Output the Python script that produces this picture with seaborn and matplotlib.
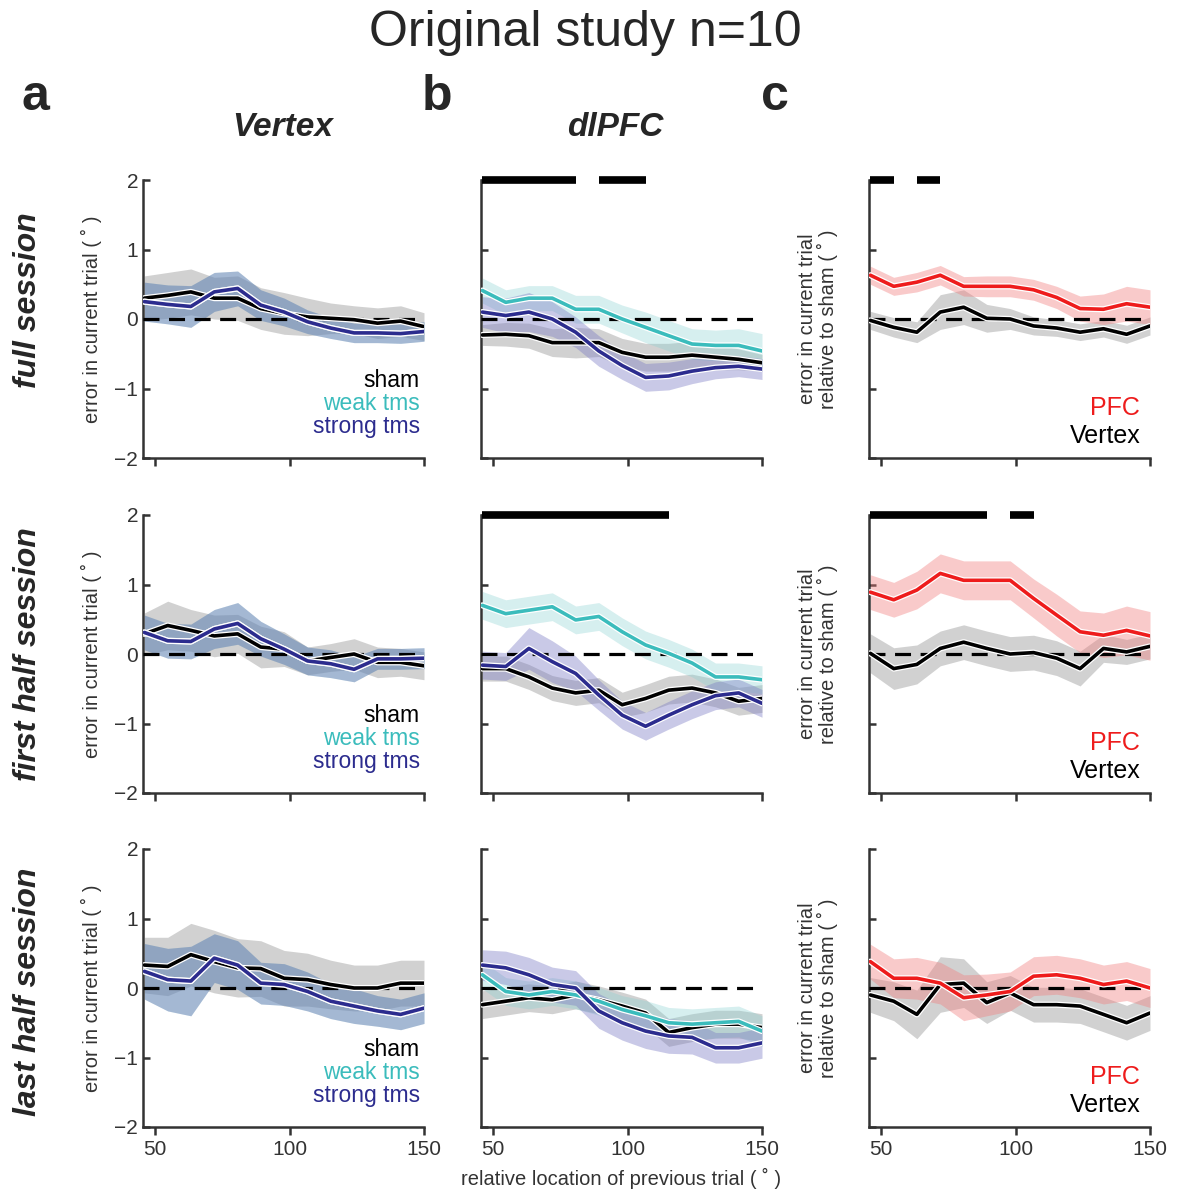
import numpy as np
import matplotlib
matplotlib.use('Agg')
import matplotlib.pyplot as plt
import matplotlib.patheffects as pe
import seaborn as sns

# relative location of previous trial (deg), shared by all panels
xs = [46, 54.7, 63.3, 72, 80.7, 89.3, 98, 106.7, 115.3, 124, 132.7, 141.3, 150]

# ---- full session ----
full_vertex_sham = [0.30, 0.34, 0.39, 0.30, 0.30, 0.15, 0.08, 0.03, 0.01, -0.01, -0.06, -0.03, -0.11]
full_vertex_sham_err = [0.32, 0.33, 0.33, 0.30, 0.32, 0.30, 0.30, 0.27, 0.22, 0.20, 0.22, 0.22, 0.20]
full_vertex_strong = [0.25, 0.21, 0.18, 0.39, 0.44, 0.20, 0.10, -0.04, -0.13, -0.20, -0.20, -0.21, -0.18]
full_vertex_strong_err = [0.28, 0.28, 0.30, 0.28, 0.25, 0.22, 0.20, 0.17, 0.15, 0.14, 0.14, 0.14, 0.14]

full_dlpfc_sham = [-0.23, -0.22, -0.24, -0.34, -0.34, -0.34, -0.48, -0.55, -0.55, -0.52, -0.55, -0.58, -0.63]
full_dlpfc_sham_err = [0.15, 0.17, 0.18, 0.20, 0.22, 0.20, 0.20, 0.20, 0.20, 0.20, 0.18, 0.15, 0.12]
full_dlpfc_weak = [0.41, 0.24, 0.30, 0.30, 0.14, 0.14, 0.00, -0.12, -0.24, -0.36, -0.38, -0.38, -0.46]
full_dlpfc_weak_err = [0.18, 0.18, 0.18, 0.18, 0.20, 0.20, 0.20, 0.22, 0.22, 0.22, 0.22, 0.24, 0.25]
full_dlpfc_strong = [0.10, 0.05, 0.10, 0.00, -0.19, -0.46, -0.67, -0.84, -0.82, -0.75, -0.70, -0.68, -0.72]
full_dlpfc_strong_err = [0.22, 0.25, 0.28, 0.25, 0.22, 0.22, 0.20, 0.20, 0.20, 0.18, 0.16, 0.15, 0.15]
full_dlpfc_sig = [(46, 80.7), (89.3, 106.7)]

full_diff_pfc = [0.63, 0.47, 0.53, 0.63, 0.47, 0.47, 0.47, 0.42, 0.31, 0.15, 0.14, 0.22, 0.17]
full_diff_pfc_err = [0.13, 0.13, 0.14, 0.14, 0.14, 0.15, 0.15, 0.15, 0.16, 0.18, 0.22, 0.25, 0.25]
full_diff_vertex = [-0.02, -0.12, -0.19, 0.10, 0.17, 0.01, 0.00, -0.10, -0.13, -0.19, -0.14, -0.22, -0.10]
full_diff_vertex_err = [0.13, 0.14, 0.15, 0.25, 0.25, 0.20, 0.15, 0.13, 0.12, 0.12, 0.12, 0.13, 0.13]
full_diff_sig = [(46, 54.7), (63.3, 72)]

# ---- first half session ----
first_vertex_sham = [0.29, 0.41, 0.34, 0.26, 0.29, 0.10, 0.07, -0.10, -0.05, 0.00, -0.12, -0.12, -0.17]
first_vertex_sham_err = [0.30, 0.35, 0.30, 0.30, 0.28, 0.30, 0.25, 0.20, 0.20, 0.22, 0.22, 0.20, 0.20]
first_vertex_strong = [0.31, 0.19, 0.18, 0.36, 0.44, 0.22, 0.07, -0.10, -0.14, -0.22, -0.07, -0.07, -0.06]
first_vertex_strong_err = [0.25, 0.25, 0.25, 0.28, 0.30, 0.25, 0.22, 0.20, 0.20, 0.18, 0.15, 0.15, 0.15]

first_dlpfc_sham = [-0.21, -0.21, -0.33, -0.49, -0.56, -0.52, -0.73, -0.64, -0.52, -0.49, -0.56, -0.68, -0.64]
first_dlpfc_sham_err = [0.18, 0.18, 0.18, 0.18, 0.18, 0.18, 0.18, 0.20, 0.20, 0.20, 0.20, 0.20, 0.20]
first_dlpfc_weak = [0.70, 0.58, 0.63, 0.68, 0.49, 0.54, 0.32, 0.13, 0.01, -0.13, -0.33, -0.33, -0.37]
first_dlpfc_weak_err = [0.20, 0.20, 0.20, 0.20, 0.20, 0.20, 0.20, 0.20, 0.20, 0.20, 0.20, 0.20, 0.20]
first_dlpfc_strong = [-0.16, -0.18, 0.08, -0.11, -0.28, -0.59, -0.88, -1.04, -0.88, -0.73, -0.60, -0.56, -0.71]
first_dlpfc_strong_err = [0.20, 0.20, 0.30, 0.30, 0.25, 0.22, 0.20, 0.20, 0.20, 0.20, 0.20, 0.20, 0.20]
first_dlpfc_sig = [(46, 115.3)]

first_diff_pfc = [0.89, 0.78, 0.92, 1.16, 1.06, 1.06, 1.06, 0.80, 0.56, 0.32, 0.27, 0.34, 0.26]
first_diff_pfc_err = [0.25, 0.25, 0.27, 0.28, 0.28, 0.28, 0.28, 0.28, 0.30, 0.30, 0.32, 0.35, 0.35]
first_diff_vertex = [0.01, -0.21, -0.15, 0.08, 0.17, 0.08, 0.00, 0.02, -0.06, -0.21, 0.08, 0.03, 0.11]
first_diff_vertex_err = [0.28, 0.30, 0.28, 0.25, 0.25, 0.25, 0.25, 0.25, 0.25, 0.25, 0.20, 0.18, 0.18]
first_diff_sig = [(46, 89.3), (98, 106.7)]

# ---- last half session ----
last_vertex_sham = [0.33, 0.31, 0.48, 0.38, 0.29, 0.28, 0.14, 0.12, 0.05, 0.00, 0.00, 0.07, 0.07]
last_vertex_sham_err = [0.40, 0.42, 0.45, 0.45, 0.42, 0.40, 0.40, 0.38, 0.35, 0.33, 0.33, 0.33, 0.33]
last_vertex_strong = [0.24, 0.12, 0.10, 0.43, 0.33, 0.07, 0.05, -0.05, -0.19, -0.26, -0.33, -0.38, -0.29]
last_vertex_strong_err = [0.40, 0.45, 0.50, 0.35, 0.35, 0.30, 0.30, 0.28, 0.25, 0.25, 0.22, 0.22, 0.22]

last_dlpfc_sham = [-0.24, -0.19, -0.14, -0.17, -0.10, -0.17, -0.26, -0.36, -0.64, -0.57, -0.52, -0.52, -0.57]
last_dlpfc_sham_err = [0.20, 0.20, 0.20, 0.20, 0.20, 0.20, 0.20, 0.20, 0.20, 0.20, 0.20, 0.20, 0.20]
last_dlpfc_weak = [0.19, -0.05, -0.10, -0.05, -0.10, -0.19, -0.31, -0.40, -0.50, -0.52, -0.50, -0.48, -0.62]
last_dlpfc_weak_err = [0.20, 0.20, 0.20, 0.20, 0.20, 0.20, 0.20, 0.22, 0.22, 0.22, 0.22, 0.22, 0.22]
last_dlpfc_strong = [0.33, 0.29, 0.19, 0.05, 0.00, -0.33, -0.50, -0.62, -0.69, -0.71, -0.86, -0.86, -0.79]
last_dlpfc_strong_err = [0.22, 0.24, 0.25, 0.25, 0.25, 0.25, 0.25, 0.25, 0.25, 0.24, 0.22, 0.22, 0.22]

last_diff_pfc = [0.38, 0.14, 0.14, 0.07, -0.14, -0.10, -0.05, 0.17, 0.19, 0.14, 0.05, 0.10, 0.00]
last_diff_pfc_err = [0.25, 0.28, 0.30, 0.30, 0.33, 0.30, 0.28, 0.28, 0.28, 0.28, 0.28, 0.28, 0.28]
last_diff_vertex = [-0.10, -0.19, -0.38, 0.05, 0.07, -0.21, -0.07, -0.24, -0.24, -0.26, -0.38, -0.50, -0.36]
last_diff_vertex_err = [0.25, 0.28, 0.35, 0.40, 0.35, 0.30, 0.25, 0.25, 0.25, 0.25, 0.25, 0.25, 0.25]

row_labels = ['full session', 'first half session', 'last half session']
col_titles = ['Vertex', 'dlPFC']
panel_letters = ['a', 'b', 'c']
tms_labels = ['sham', 'weak tms', 'strong tms']
diff_labels = ['PFC', 'Vertex']

SHAM = '#000000'
WEAK = '#3bbcbc'
STRONG = '#2c2c8e'
PFC = '#ee1c1c'
TXT = '#333333'

sns.set_style('ticks')
plt.rcParams['font.family'] = ['Liberation Sans', 'DejaVu Sans']

fig = plt.figure(figsize=(11.77, 12.03), dpi=100)
W, H = 1177, 1203
col_left = [143, 481, 869]
row_top = [180, 515, 849]
ax_w, ax_h = 281, 278

halo = [pe.Stroke(linewidth=4.4, foreground='white'), pe.Normal()]


def draw_series(ax, mean, err, color, band_color, band_alpha):
    m = np.array(mean)
    e = np.array(err)
    ax.fill_between(xs, m - e, m + e, color=band_color, alpha=band_alpha, lw=0, zorder=1)
    sns.lineplot(x=xs, y=mean, ax=ax, color=color, lw=2.6, zorder=4,
                 path_effects=halo, estimator=None)


def draw_sig(ax, spans):
    for a, b in spans:
        ax.plot([a, b], [2, 2], color='black', lw=5.5, solid_capstyle='butt',
                clip_on=False, zorder=6)


def make_ax(r, c):
    left = col_left[c] / W
    bottom = 1 - (row_top[r] + ax_h) / H
    ax = fig.add_axes([left, bottom, ax_w / W, ax_h / H])
    ax.set_xlim(45.5, 150)
    ax.set_ylim(-2, 2)
    sns.despine(ax=ax)
    for s in ['left', 'bottom']:
        ax.spines[s].set_linewidth(1.8)
        ax.spines[s].set_color(TXT)
    ax.set_xticks([50, 100, 150])
    ax.set_yticks([-2, -1, 0, 1, 2])
    ax.tick_params(axis='x', direction='out', length=6, width=1.8, color=TXT,
                   labelsize=15, labelcolor=TXT, labelbottom=(r == 2))
    ax.tick_params(axis='y', direction='in', length=5, width=1.8, color=TXT,
                   labelsize=15, labelcolor=TXT, labelleft=(c == 0))
    if c == 0:
        ax.set_yticklabels(['\u22122', '\u22121', '0', '1', '2'])
    ax.axhline(0, color='black', lw=2.3, ls=(0, (5, 3)), zorder=3)
    ax.set_xlabel('')
    ax.set_ylabel('')
    return ax


vertex_rows = [
    (full_vertex_sham, full_vertex_sham_err, full_vertex_strong, full_vertex_strong_err),
    (first_vertex_sham, first_vertex_sham_err, first_vertex_strong, first_vertex_strong_err),
    (last_vertex_sham, last_vertex_sham_err, last_vertex_strong, last_vertex_strong_err),
]
dlpfc_rows = [
    (full_dlpfc_sham, full_dlpfc_sham_err, full_dlpfc_weak, full_dlpfc_weak_err,
     full_dlpfc_strong, full_dlpfc_strong_err, full_dlpfc_sig),
    (first_dlpfc_sham, first_dlpfc_sham_err, first_dlpfc_weak, first_dlpfc_weak_err,
     first_dlpfc_strong, first_dlpfc_strong_err, first_dlpfc_sig),
    (last_dlpfc_sham, last_dlpfc_sham_err, last_dlpfc_weak, last_dlpfc_weak_err,
     last_dlpfc_strong, last_dlpfc_strong_err, []),
]
diff_rows = [
    (full_diff_pfc, full_diff_pfc_err, full_diff_vertex, full_diff_vertex_err, full_diff_sig),
    (first_diff_pfc, first_diff_pfc_err, first_diff_vertex, first_diff_vertex_err, first_diff_sig),
    (last_diff_pfc, last_diff_pfc_err, last_diff_vertex, last_diff_vertex_err, []),
]

for r in range(3):
    # column a: Vertex (weak and strong coincide, strong drawn on top)
    ax = make_ax(r, 0)
    sham, sham_e, strong, strong_e = vertex_rows[r]
    draw_series(ax, sham, sham_e, SHAM, '#9a9a9a', 0.45)
    draw_series(ax, strong, strong_e, WEAK, '#6fc7c7', 0.35)
    draw_series(ax, strong, strong_e, STRONG, '#5a5aa8', 0.35)
    ax.set_ylabel('error in current trial ( \u02da )', fontsize=14.5, color=TXT, labelpad=9)
    for lab, col, yy in zip(tms_labels, [SHAM, WEAK, STRONG], [0.278, 0.195, 0.112]):
        ax.text(0.985, yy, lab, transform=ax.transAxes, ha='right', va='center',
                fontsize=16.5, color=col)

    # column b: dlPFC
    ax = make_ax(r, 1)
    sham, sham_e, weak, weak_e, strong, strong_e, sig = dlpfc_rows[r]
    draw_series(ax, sham, sham_e, SHAM, '#9a9a9a', 0.45)
    draw_series(ax, weak, weak_e, WEAK, '#8ad2d2', 0.35)
    draw_series(ax, strong, strong_e, STRONG, '#7a7ac4', 0.4)
    draw_sig(ax, sig)
    ax.set_ylabel('')
    if r == 2:
        ax.set_xlabel('relative location of previous trial ( \u02da )', fontsize=14.5,
                      color=TXT, labelpad=6)

    # column c: difference to sham
    ax = make_ax(r, 2)
    pfc, pfc_e, vtx, vtx_e, sig = diff_rows[r]
    draw_series(ax, vtx, vtx_e, SHAM, '#9a9a9a', 0.45)
    draw_series(ax, pfc, pfc_e, PFC, '#f27c7c', 0.4)
    draw_sig(ax, sig)
    ax.set_ylabel('')
    ax.text(-0.18, 0.5, 'error in current trial\nrelative to sham ( \u02da )',
            transform=ax.transAxes, rotation=90, ha='center', va='center',
            multialignment='center', fontsize=14.5, color=TXT, linespacing=1.0)
    for lab, col, yy in zip(diff_labels, [PFC, SHAM], [0.18, 0.08]):
        ax.text(0.965, yy, lab, transform=ax.transAxes, ha='right', va='center',
                fontsize=18, color=col)

fig.text(585 / W, 1 - 33 / H, 'Original study n=10', ha='center', va='center', fontsize=36)
for lab, px in zip(panel_letters, [35, 437, 775]):
    fig.text(px / W, 1 - 97 / H, lab, ha='center', va='center', fontsize=36, fontweight='bold')
for lab, px in zip(col_titles, [283, 615]):
    fig.text(px / W, 1 - 128 / H, lab, ha='center', va='center', fontsize=24,
             fontweight='bold', fontstyle='italic')
for lab, py in zip(row_labels, [300, 654, 992]):
    fig.text(28 / W, 1 - py / H, lab, ha='center', va='center', rotation=90, fontsize=23,
             fontweight='bold', fontstyle='italic')

fig.savefig('out.png', dpi=100)
